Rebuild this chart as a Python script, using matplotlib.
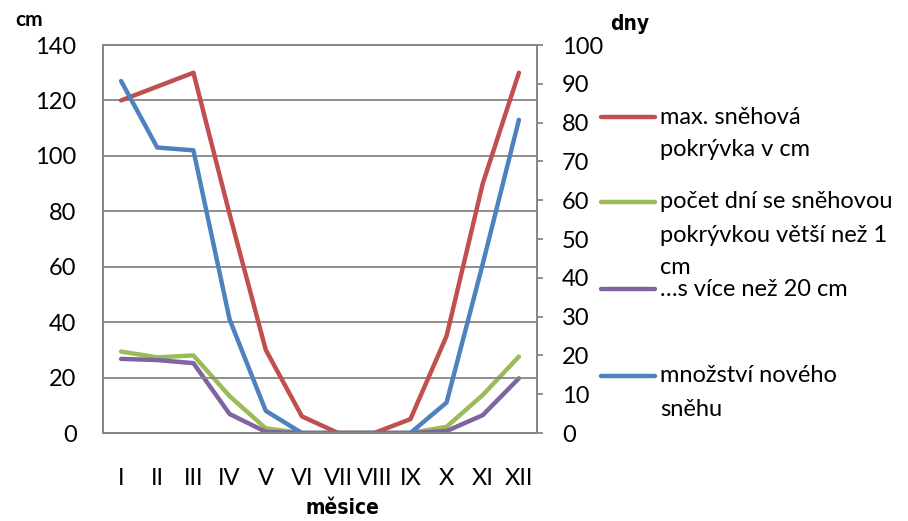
import matplotlib
matplotlib.use("Agg")
import matplotlib.pyplot as plt
from matplotlib.lines import Line2D

plt.rcParams['font.family'] = ['Lato', 'DejaVu Sans']

months = ["I", "II", "III", "IV", "V", "VI", "VII", "VIII", "IX", "X", "XI", "XII"]
# cm (left axis)
max_snow = [120, 125, 130, 79, 30, 6, 0, 0, 5, 35, 90, 130]
new_snow = [127, 103, 102, 41, 8, 0, 0, 0, 0, 11, 61, 113]
# days (right axis)
days_1cm = [21, 19.5, 20, 9.5, 1.2, 0, 0, 0, 0, 1.6, 9.8, 19.7]
days_20cm = [19.1, 18.8, 18, 4.9, 0.3, 0, 0, 0, 0, 0.5, 4.6, 14.1]

labels = ["max. sněhová\npokrývka v cm",
          "počet dní se sněhovou\npokrývkou větší než 1\ncm",
          "…s více než 20 cm",
          "množství nového\nsněhu"]
colors = ["#C0504D", "#9BBB59", "#8064A2", "#4F81BD"]

W, H = 908, 521
fig = plt.figure(figsize=(W / 100, H / 100), dpi=100)
ax = fig.add_axes([103 / W, 1 - 433 / H, (537 - 103) / W, (433 - 45) / H])
ax2 = ax.twinx()

x = list(range(len(months)))
lw = 3.2
ax2.plot(x, days_1cm, color=colors[1], lw=lw, solid_capstyle='round')
ax2.plot(x, days_20cm, color=colors[2], lw=lw, solid_capstyle='round')
ax.plot(x, max_snow, color=colors[0], lw=lw, solid_capstyle='round')
ax.plot(x, new_snow, color=colors[3], lw=lw, solid_capstyle='round')

ax.set_zorder(ax2.get_zorder() + 1)
ax.patch.set_visible(False)

ax.set_xlim(-0.5, 11.5)
ax.set_ylim(0, 140)
ax2.set_ylim(0, 100)
ax.set_yticks(range(0, 141, 20))
ax2.set_yticks(range(0, 101, 10))
ax.set_xticks(x)
ax.set_xticklabels(months)

grid_c = "#868686"
ax.yaxis.grid(True, color=grid_c, lw=1.3)
ax.set_axisbelow(True)
for a in (ax, ax2):
    for s in a.spines.values():
        s.set_color(grid_c)
        s.set_linewidth(1.3)
fs = 17
ax.tick_params(axis='y', length=0, pad=19, labelsize=fs)
ax.tick_params(axis='x', length=0, pad=25, labelsize=fs)
ax2.tick_params(axis='y', length=4, width=1.3, color=grid_c, pad=14, labelsize=fs, direction='out')

fig.text(29 / W, 1 - 20 / H, "cm", fontsize=15, fontweight='bold', ha='center', va='center')
fig.text(630 / W, 1 - 24 / H, "dny", fontsize=15, fontweight='bold', fontstretch='condensed',
         ha='center', va='center', family='DejaVu Sans')
fig.text(342 / W, 1 - 508 / H, "měsice", fontsize=15, fontweight='bold', fontstretch='condensed',
         ha='center', va='center', family='DejaVu Sans')

# legend drawn manually, entries aligned to first text line
rows = [117, 202, 289, 376]
for lab, c, yy in zip(labels, colors, rows):
    yf = 1 - yy / H
    fig.add_artist(Line2D([601 / W, 655 / W], [yf, yf], color=c, lw=lw,
                          solid_capstyle='round', transform=fig.transFigure))
    for k, line in enumerate(lab.split("\n")):
        fig.text(660 / W, 1 - (yy + 33 * k) / H, line, fontsize=17, ha='left', va='center')

fig.savefig("out.png", dpi=100)
